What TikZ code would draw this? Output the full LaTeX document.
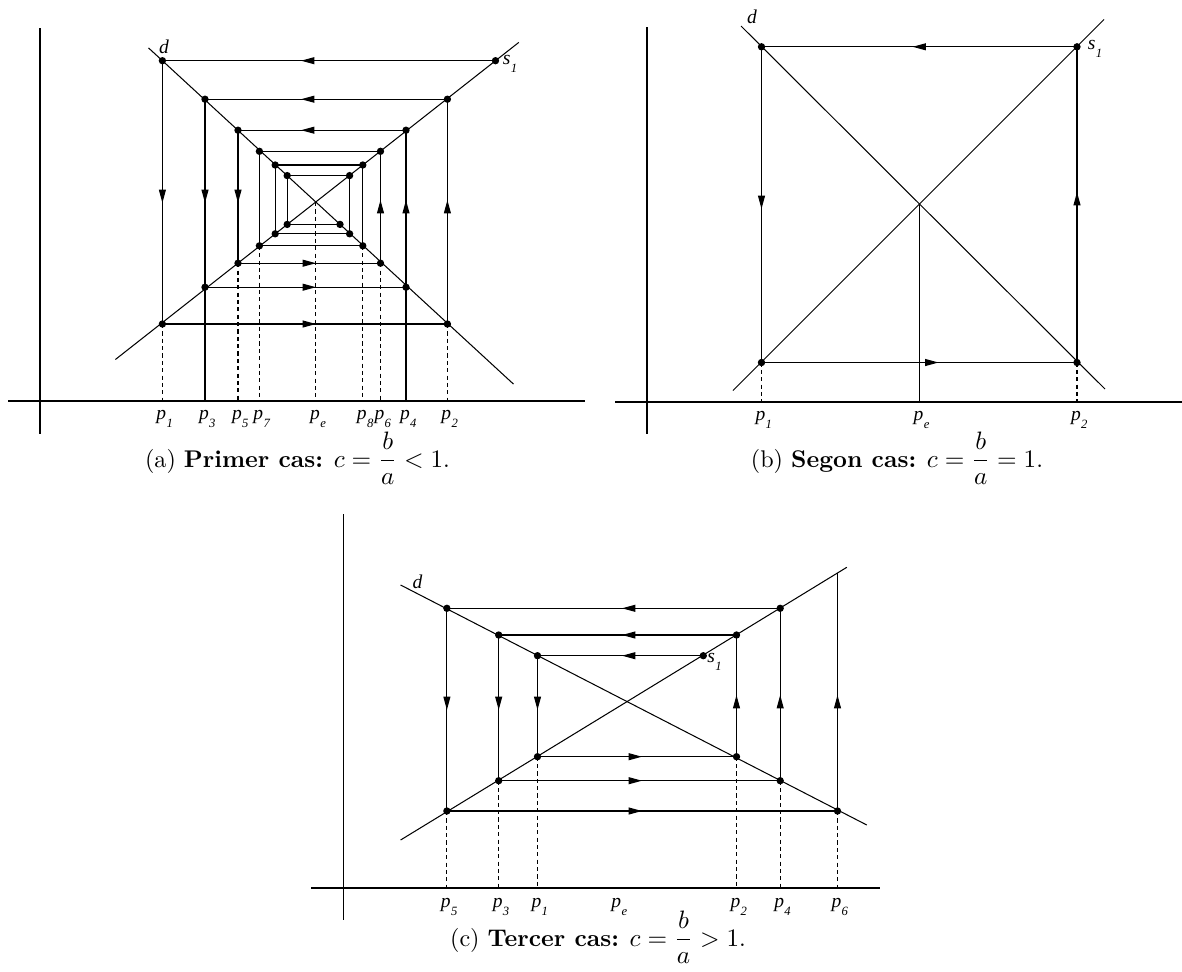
\documentclass[tikz,border=0pt]{standalone}
\usepackage{amsmath}
\usepackage{fontspec}
\newfontfamily\lblfont{Liberation Serif}
\usetikzlibrary{arrows.meta}
\tikzset{
  axisline/.style={line width=0.6pt},
  curve/.style={line width=0.45pt},
  web/.style={line width=0.5pt},
  proj/.style={line width=0.5pt, dash pattern=on 1.8pt off 1.4pt},
  projsolid/.style={line width=0.5pt},
  tipmark/.style={-{Triangle[length=5.8pt,width=3pt]}, line width=0.5pt},
  dot/.style={circle, fill, inner sep=0pt, minimum size=3.2pt},
  lbl/.style={font=\lblfont\fontsize{8.5}{10}\selectfont\itshape, inner sep=1pt},
  captext/.style={font=\fontsize{10.5}{12.5}\selectfont, anchor=base, inner sep=0pt},
}
\newcommand\plab[1]{p\kern0.02em\raisebox{-0.85ex}{\fontsize{5.5}{6}\selectfont #1}}
\newcommand\slab{s\kern0.02em\raisebox{-0.85ex}{\fontsize{5.5}{6}\selectfont 1}}

\begin{document}
\begin{tikzpicture}[x=0.435pt,y=-0.435pt]
\useasboundingbox (0,0) rectangle (1182,972);

%================ (a) =================
\coordinate (aXt) at (40,28);  \coordinate (aXb) at (40,434);
\coordinate (aYl) at (8,401);  \coordinate (aYr) at (585,401);
\draw[axisline] (aXt) -- (aXb);
\draw[axisline] (aYl) -- (aYr);
\coordinate (aD1) at (148.5,47.9); \coordinate (aD2) at (513.5,384.1);
\coordinate (aS1) at (115.4,359.5); \coordinate (aS2) at (518.8,42.4);
\draw[curve] (aD1) -- (aD2);
\draw[curve] (aS1) -- (aS2);
\coordinate (aE) at (315.8,202);
\coordinate (a0) at (495.5,60.7);
\coordinate (a1) at (162.4,60.7);
\coordinate (a2) at (162.4,324);
\coordinate (a3) at (447.4,324);
\coordinate (a4) at (447.4,99.2);
\coordinate (a5) at (205,99.2);
\coordinate (a6) at (205,287.2);
\coordinate (a7) at (406,287.2);
\coordinate (a8) at (406,130.2);
\coordinate (a9) at (238,130.2);
\coordinate (a10) at (238,263.2);
\coordinate (a11) at (380.5,263.2);
\coordinate (a12) at (380.5,151.3);
\coordinate (a13) at (259.4,151.3);
\coordinate (a14) at (259.4,245.8);
\coordinate (a15) at (362.8,245.8);
\coordinate (a16) at (362.8,165);
\coordinate (a17) at (275.2,165);
\coordinate (a18) at (275.2,233.8);
\coordinate (a19) at (349.6,233.8);
\coordinate (a20) at (349.6,175.6);
\coordinate (a21) at (287.2,175.6);
\coordinate (a22) at (287.2,224.4);
\coordinate (a23) at (340,224.4);
\draw[web] (a0) -- (a1) -- (a2) -- (a3) -- (a4) -- (a5) -- (a6) -- (a7) -- (a8) -- (a9) -- (a10) -- (a11) -- (a12) -- (a13) -- (a14) -- (a15) -- (a16) -- (a17) -- (a18) -- (a19) -- (a20) -- (a21) -- (a22) -- (a23);
% arrows
\foreach \y in {60.7,99.2,130.2} \draw[tipmark] (314,\y) -- (301,\y);
\foreach \x in {162.4,205,238} \draw[tipmark] (\x,190) -- (\x,203);
\foreach \y in {324,287.2,263.2} \draw[tipmark] (303,\y) -- (316,\y);
\foreach \x in {447.4,406,380.5} \draw[tipmark] (\x,213) -- (\x,200);
% projections
\draw[proj] (a2) -- (a2 |- aYl);
\draw[projsolid] (a6) -- (a6 |- aYl);
\draw[proj] (a10) -- (a10 |- aYl);
\draw[proj] (a14) -- (a14 |- aYl);
\draw[proj] (aE) -- (aE |- aYl);
\draw[proj] (a15) -- (a15 |- aYl);
\draw[proj] (a11) -- (a11 |- aYl);
\draw[projsolid] (a7) -- (a7 |- aYl);
\draw[proj] (a3) -- (a3 |- aYl);
\foreach \i in {0,...,23} \node[dot] at (a\i) {};
% labels
\coordinate (aL) at (0,419);
\node[lbl,xshift=1pt] (la1) at (a2 |- aL) {\plab{1}};
\node[lbl,xshift=1pt] (la3) at (a6 |- aL) {\plab{3}};
\node[lbl,xshift=1pt] (la5) at (a10 |- aL) {\plab{5}};
\node[lbl,xshift=1pt] (la7) at (a14 |- aL) {\plab{7}};
\node[lbl,xshift=1pt] (lae) at (aE |- aL) {\plab{e}};
\node[lbl,xshift=1pt] (la8) at (a15 |- aL) {\plab{8}};
\node[lbl,xshift=1pt] (la6) at (a11 |- aL) {\plab{6}};
\node[lbl,xshift=1pt] (la4) at (a7 |- aL) {\plab{4}};
\node[lbl,xshift=1pt] (la2) at (a3 |- aL) {\plab{2}};
\node[lbl] (lad) at (164,46.5) {d};
\node[lbl] (las) at (510,64) {\slab};
\node[captext] (capa) at (297.5,467) {(a) \textbf{Primer cas:} $c=\dfrac{b}{a}<1$.};

%================ (b) =================
\coordinate (bXt) at (647,27);  \coordinate (bXb) at (647,434);
\coordinate (bYl) at (615,402); \coordinate (bYr) at (1182,402);
\draw[axisline] (bXt) -- (bXb);
\draw[axisline] (bYl) -- (bYr);
\coordinate (bD1) at (741,26); \coordinate (bD2) at (1105,389);
\coordinate (bS1) at (733,390.5); \coordinate (bS2) at (1104,19.5);
\draw[curve] (bD1) -- (bD2);
\draw[curve] (bS1) -- (bS2);
\coordinate (bE) at (919.3,204.6);
\coordinate (b0) at (1077,46.8);
\coordinate (b1) at (761.5,46.8);
\coordinate (b2) at (761.5,362.5);
\coordinate (b3) at (1077,362.5);
\draw[web] (b0) -- (b1) -- (b2) -- (b3) -- (b0);
\draw[tipmark] (926,46.8) -- (912.6,46.8);
\draw[tipmark] (761.5,196) -- (761.5,209);
\draw[tipmark] (925.5,362.5) -- (938.5,362.5);
\draw[tipmark] (1077,205) -- (1077,192);
\draw[proj] (b2) -- (b2 |- bYl);
\draw[projsolid] (bE) -- (bE |- bYl);
\draw[proj] (b3) -- (b3 |- bYl);
\foreach \i in {0,...,3} \node[dot] at (b\i) {};
\coordinate (bL) at (0,420);
\node[lbl,xshift=1pt] (lb1) at (b2 |- bL) {\plab{1}};
\node[lbl,xshift=1pt] (lbe) at (bE |- bL) {\plab{e}};
\node[lbl,xshift=1pt] (lb2) at (b3 |- bL) {\plab{2}};
\node[lbl] (lbd) at (752,17) {d};
\node[lbl] (lbs) at (1095,49) {\slab};
\node[captext] (capb) at (897,467) {(b) \textbf{Segon cas:} $c=\dfrac{b}{a}=1$.};

%================ (c) =================
\coordinate (cXt) at (343.7,514);  \coordinate (cXb) at (343.7,920);
\coordinate (cYl) at (311,888);    \coordinate (cYr) at (880,888);
\draw[axisline] (cXt) -- (cXb);
\draw[axisline] (cYl) -- (cYr);
\coordinate (cD1) at (400.6,585); \coordinate (cD2) at (866.8,825);
\coordinate (cS1) at (400.6,840); \coordinate (cS2) at (846.8,567.3);
\draw[curve] (cD1) -- (cD2);
\draw[curve] (cS1) -- (cS2);
\coordinate (cE) at (627.4,702.3);
\coordinate (c0) at (703.3,655.7);
\coordinate (c1) at (537.5,655.7);
\coordinate (c2) at (537.5,756.7);
\coordinate (c3) at (736.5,756.7);
\coordinate (c4) at (736.5,635);
\coordinate (c5) at (498.7,635);
\coordinate (c6) at (498.7,780.7);
\coordinate (c7) at (780.2,780.7);
\coordinate (c8) at (780.2,608.3);
\coordinate (c9) at (446.9,608.3);
\coordinate (c10) at (446.9,811);
\coordinate (c11) at (837.5,811);
\coordinate (c12) at (837.5,573);
\draw[web] (c0) -- (c1) -- (c2) -- (c3) -- (c4) -- (c5) -- (c6) -- (c7) -- (c8) -- (c9) -- (c10) -- (c11) -- (c12);
\foreach \y in {655.7,635,608.3} \draw[tipmark] (635,\y) -- (622,\y);
\foreach \x in {537.5,498.7,446.9} \draw[tipmark] (\x,697) -- (\x,710);
\foreach \y in {756.7,780.7,811} \draw[tipmark] (629,\y) -- (642,\y);
\foreach \x in {736.5,780.2,837.5} \draw[tipmark] (\x,708) -- (\x,695);
\draw[proj] (c10) -- (c10 |- cYl);
\draw[proj] (c6) -- (c6 |- cYl);
\draw[proj] (c2) -- (c2 |- cYl);
\draw[proj] (c3) -- (c3 |- cYl);
\draw[proj] (c7) -- (c7 |- cYl);
\draw[proj] (c11) -- (c11 |- cYl);
\foreach \i in {0,...,11} \node[dot] at (c\i) {};
\coordinate (cL) at (0,906.7);
\node[lbl,xshift=1pt] (lc5) at (c10 |- cL) {\plab{5}};
\node[lbl,xshift=1pt] (lc3) at (c6 |- cL) {\plab{3}};
\node[lbl,xshift=1pt] (lc1) at (c2 |- cL) {\plab{1}};
\node[lbl,xshift=1pt] (lce) at (617,906.7) {\plab{e}};
\node[lbl,xshift=1pt] (lc2) at (c3 |- cL) {\plab{2}};
\node[lbl,xshift=1pt] (lc4) at (c7 |- cL) {\plab{4}};
\node[lbl,xshift=1pt] (lc6) at (c11 |- cL) {\plab{6}};
\node[lbl] (lcd) at (417.6,581.7) {d};
\node[lbl] (lcs) at (714.5,662) {\slab};
\node[captext] (capc) at (598,946) {(c) \textbf{Tercer cas:} $c=\dfrac{b}{a}>1$.};
\end{tikzpicture}
\end{document}
